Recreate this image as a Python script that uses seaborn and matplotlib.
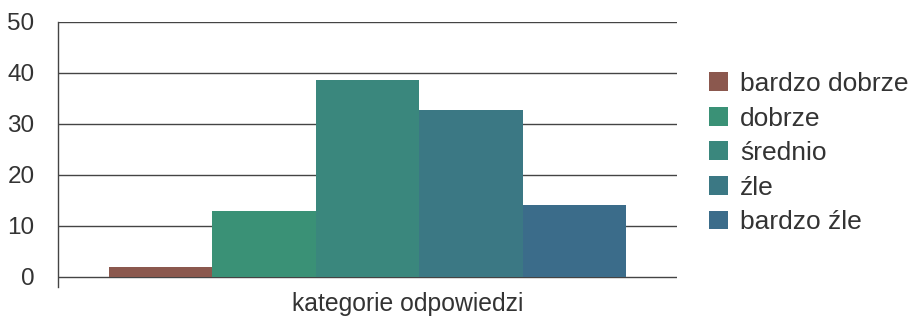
import pandas as pd
import matplotlib
matplotlib.use("Agg")
import matplotlib.pyplot as plt
import seaborn as sns

# data
categories = ["bardzo dobrze", "dobrze", "średnio", "źle", "bardzo źle"]
values = [1.9, 13.0, 38.6, 32.7, 14.0]
colors = ["#8b584e", "#3a9176", "#3a877d", "#3b7884", "#3b6c8a"]
group_label = "kategorie odpowiedzi"
y_ticks = [0, 10, 20, 30, 40, 50]

df = pd.DataFrame({"grupa": [group_label] * len(categories),
                   "odpowiedz": categories,
                   "procent": values})

sns.set_style("white")
plt.rcParams["font.family"] = ["Liberation Sans", "DejaVu Sans"]
text_col = "#333333"
line_col = "#444444"

fig = plt.figure(figsize=(9.24, 3.19), dpi=100)
ax = fig.add_axes([58 / 924, 32 / 319, (677 - 58) / 924, (287 - 22) / 319])

sns.barplot(data=df, x="grupa", y="procent", hue="odpowiedz",
            hue_order=categories, palette=colors, width=0.835,
            saturation=1, dodge=True, linewidth=0, ax=ax, legend=True)

ax.set_xlim(-0.5, 0.5)
ax.set_ylim(-2, 50)
ax.set_yticks(y_ticks)
ax.set_yticklabels([str(t) for t in y_ticks], fontsize=17.5, color=text_col)
ax.tick_params(axis="y", length=8, width=1, color=line_col, pad=9)
ax.tick_params(axis="x", length=0)
ax.set_xticks([])
ax.set_xlabel("")
ax.set_ylabel("")
fig.text(408 / 924, 1 - 304 / 319, group_label, fontsize=17.8,
         color=text_col, ha="center", va="center")

for t in y_ticks:
    ax.axhline(t, color=line_col, lw=1, zorder=0)

for s in ["top", "right", "bottom"]:
    ax.spines[s].set_visible(False)
ax.spines["left"].set_color(line_col)
ax.spines["left"].set_linewidth(1)

ax.legend(loc="center left", bbox_to_anchor=(709 / 924, 0.52),
          bbox_transform=fig.transFigure, frameon=False, fontsize=19,
          handlelength=0.72, handleheight=0.72, handletextpad=0.45,
          labelspacing=0.4, borderpad=0, borderaxespad=0,
          labelcolor=text_col)

fig.savefig("out.png", dpi=100)
